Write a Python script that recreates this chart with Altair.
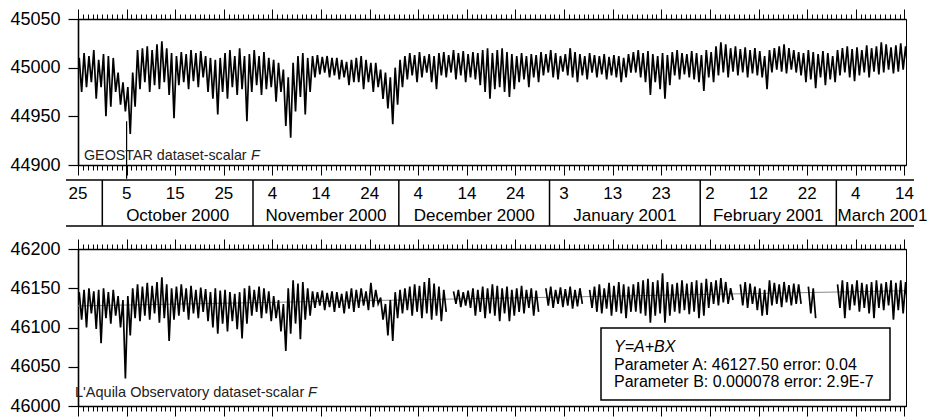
import altair as alt
import pandas as pd

START = "2000-09-25"

# ---- GEOSTAR scalar F : daily upper / lower readings (nT), 25 Sep 2000 -> 14 Mar 2001
TOP_HI = [45010, 45015, 45012, 45018, 45008, 45014, 45012, 45010, 44995, 44985,
          44980, 44995, 45018, 45020, 45022, 45018, 45024, 45027, 45020, 45015,
          45012, 45016, 45014, 45018, 45015, 45017, 45012, 45010, 45008, 45010,
          45015, 45018, 45012, 45020, 45012, 45014, 45018, 45012, 45016, 45010,
          45008, 45005, 44998, 44990, 45005, 45012, 45015, 45010,
          45012, 45013, 45011, 45012, 45010, 45010, 45008, 45006, 45008, 45010,
          45012, 45008, 45005, 45005, 44998, 44995, 44990, 45000, 45008, 45012,
          45015, 45013, 45016, 45012, 45014, 45012, 45015, 45016, 45013, 45018,
          45015, 45017, 45014, 45016, 45015, 45018, 45020, 45015, 45018, 45020,
          45016, 45014, 45012, 45015, 45012, 45014, 45013, 45016, 45014, 45018,
          45015, 45012, 45014, 45020, 45016, 45014, 45012, 45015, 45013, 45012,
          45014, 45011, 45013, 45012, 45010, 45014, 45016, 45018, 45015, 45017,
          45014, 45012, 45015, 45013, 45016, 45018, 45015, 45014, 45017, 45015,
          45013, 45018, 45016, 45022, 45026, 45024, 45020, 45022, 45019, 45021,
          45018, 45020, 45017, 45012,
          45018, 45020, 45022, 45024, 45020, 45018, 45016, 45015, 45018, 45016,
          45014, 45017, 45015, 45012, 45018, 45020, 45022, 45019, 45021, 45018,
          45023, 45020, 45022, 45026, 45024, 45021, 45023, 45025,
          45022]
TOP_LO = [44975, 44980, 44985, 44968, 44980, 44950, 44960, 44975, 44962, 44955,
          44932, 44960, 44978, 44985, 44975, 44982, 44978, 44985, 44972, 44948,
          44982, 44985, 44978, 44986, 44980, 44990, 44975, 44968, 44952, 44975,
          44968, 44980, 44972, 44978, 44945, 44975, 44982, 44972, 44978, 44980,
          44965, 44975, 44940, 44928, 44955, 44970, 44952, 44975,
          44990, 44993, 44995, 44990, 44992, 44988, 44990, 44982, 44985, 44985,
          44978, 44985, 44975, 44980, 44968, 44958, 44942, 44962, 44980, 44988,
          44992, 44985, 44990, 44995, 44985, 44978, 44992, 44990, 44995, 44988,
          44992, 44985, 44990, 44988, 44982, 44975, 44968, 44978, 44980, 44975,
          44970, 44978, 44985, 44988, 44980, 44990, 44985, 44992, 44995, 44990,
          44988, 44996, 44992, 44990, 44985, 44992, 44988, 44995, 44990, 44993,
          44988, 44992, 44990, 44985, 44990, 44995, 44995, 44990, 44985, 44972,
          44985, 44978, 44968, 44982, 44992, 44988, 44993, 44990, 44988, 44985,
          44976, 44990, 44985, 44992, 44995, 44990, 44996, 44992, 44995, 44990,
          44994, 44992, 44990, 44978,
          44995, 44998, 44996, 44994, 44998, 44995, 44992, 44985, 44988, 44979,
          44990, 44982, 44988, 44985, 44992, 44995, 44990, 44986, 44992, 44995,
          44990, 44996, 44993, 44995, 44998, 44994, 44996, 44998,
          44995]

# vertical stroke below the early-October dip
ARTIFACT_DATE = ["2000-10-05T00:00:00"]
ARTIFACT_TOP = [44945]
ARTIFACT_BOTTOM = [44886]

# ---- L'Aquila scalar F : daily upper / lower readings (nT), None = data gap
BOT_HI = [46145, 46148, 46150, 46146, 46148, 46150, 46145, 46148, 46140, 46135,
          46140, 46150, 46155, 46152, 46157, 46153, 46158, 46164, 46155, 46150,
          46152, 46155, 46150, 46153, 46148, 46151, 46149, 46145, 46150, 46147,
          46148, 46145, 46143, 46145, 46150, 46153, 46148, 46152, 46150, 46146,
          46140, 46135, 46130, 46150, 46160, 46156, 46158, 46150,
          46146, 46145, 46147, 46144, 46146, 46145, 46143, 46146, 46150, 46148,
          46150, 46146, 46157, 46148, 46138, 46130, 46135, 46145, 46148, 46150,
          46152, 46155, 46153, 46158, 46163, 46156, 46152, 46148, None, 46146,
          46148, 46145, 46147, 46150, 46148, 46152, 46150, 46155, 46153, 46150,
          46152, 46148, 46150, 46153, 46148, 46150, 46147, None, 46150, 46152,
          46148, 46151, 46149, 46152, 46148, 46150, None, 46148, 46152, 46155,
          46150, 46157, 46153, 46158, 46155, 46152, 46155, 46158, 46160, 46162,
          46158, 46160, 46169, 46158, 46155, 46157, 46160, 46156, 46158, 46160,
          46157, 46162, 46158, 46160, 46163, 46158, 46150, None, 46155, 46158,
          46156, 46152, 46150, 46148,
          46160, 46157, 46155, 46158, 46154, 46156, 46155, None, 46152, 46150,
          None, None, None, None, 46155, 46160, 46158, 46155, 46160, 46157,
          46155, 46158, 46160, 46156, 46158, 46160, 46157, 46160,
          46158]
BOT_LO = [46110, 46100, 46118, 46098, 46080, 46112, 46105, 46115, 46100, 46035,
          46090, 46112, 46108, 46115, 46110, 46118, 46106, 46112, 46083, 46110,
          46115, 46120, 46110, 46118, 46112, 46120, 46108, 46100, 46092, 46105,
          46095, 46108, 46098, 46086, 46105, 46115, 46120, 46112, 46118, 46108,
          46112, 46095, 46070, 46092, 46105, 46085, 46110, 46115,
          46125, 46128, 46122, 46126, 46120, 46125, 46118, 46124, 46120, 46125,
          46128, 46122, 46126, 46130, 46110, 46090, 46083, 46112, 46118, 46122,
          46115, 46120, 46112, 46118, 46110, 46115, 46108, 46120, None, 46130,
          46126, 46128, 46125, 46115, 46120, 46112, 46118, 46115, 46108, 46118,
          46108, 46115, 46120, 46118, 46125, 46115, 46120, None, 46128, 46125,
          46130, 46126, 46128, 46124, 46127, 46130, None, 46125, 46120, 46118,
          46124, 46115, 46120, 46118, 46112, 46120, 46120, 46118, 46115, 46106,
          46115, 46118, 46106, 46115, 46120, 46118, 46122, 46117, 46120, 46112,
          46115, 46125, 46130, 46128, 46132, 46130, 46135, None, 46128, 46125,
          46130, 46122, 46115, 46116,
          46128, 46130, 46126, 46132, 46128, 46130, 46130, None, 46118, 46112,
          None, None, None, None, 46125, 46112, 46122, 46128, 46120, 46125,
          46118, 46112, 46125, 46122, 46128, 46110, 46122, 46118,
          46120]

# linear fit Y = A + BX drawn across the record
FIT_DATES = ["2000-09-25T00:00:00", "2001-03-14T08:00:00"]
FIT_VALUES = [46127.5, 46146.8]

# ---- date band
DAY_TICK_DATES = ["2000-09-25", "2000-10-05", "2000-10-15", "2000-10-25", "2000-11-04",
                  "2000-11-14", "2000-11-24", "2000-12-04", "2000-12-14", "2000-12-24",
                  "2001-01-03", "2001-01-13", "2001-01-23", "2001-02-02", "2001-02-12",
                  "2001-02-22", "2001-03-04", "2001-03-14"]
DAY_LABELS = ["25", "5", "15", "25", "4", "14", "24", "4", "14", "24",
              "3", "13", "23", "2", "12", "22", "4", "14"]
MONTH_LABELS = ["October 2000", "November 2000", "December 2000",
                "January 2001", "February 2001", "March 2001"]
MONTH_SEPARATORS = ["2000-09-30", "2000-10-31", "2000-11-30", "2000-12-31",
                    "2001-01-31", "2001-02-28"]
BAND_END = "2001-03-19"

TOP_TICKS = [44900, 44950, 45000, 45050]
BOT_TICKS = [46000, 46050, 46100, 46150, 46200]

FONT = "Liberation Sans"
W = 828


def to_dt(strings):
    return pd.to_datetime(strings, format="ISO8601")


def series_df(hi, lo):
    base = pd.Timestamp(START)
    rows, seg = [], 0
    for i, (h, l) in enumerate(zip(hi, lo)):
        if h is None or l is None:
            seg += 1
            continue
        rows.append({"t": base + pd.Timedelta(hours=24 * i + 6), "v": h, "seg": seg})
        rows.append({"t": base + pd.Timedelta(hours=24 * i + 18), "v": l, "seg": seg})
    return pd.DataFrame(rows)


def xscale():
    return alt.Scale(domain=[alt.DateTime(year=2000, month=9, date=25),
                             alt.DateTime(year=2001, month=3, date=14, hours=8)])


daily = pd.date_range("2000-09-25", "2001-03-14", freq="D")
daily_dt = [alt.DateTime(year=int(d.year), month=int(d.month), date=int(d.day)) for d in daily]
MAJOR_TEST = "round((datum.value - time(datetime(2000, 8, 25))) / 86400000) % 10 == 0"


def x_axis(orient):
    return alt.Axis(orient=orient, values=daily_dt, labels=False, title=None, grid=False,
                    domain=True, domainColor="black", domainWidth=1.5,
                    tickColor="black", tickWidth=1,
                    tickSize={"condition": {"test": MAJOR_TEST, "value": 10}, "value": 5})


def y_axis(vals):
    return alt.Axis(values=vals, format="d", labelOverlap=False, title=None, grid=False,
                    domain=True, domainColor="black", domainWidth=1.6, tickColor="black",
                    tickWidth=1.2, tickSize=10, labelFontSize=18, labelPadding=8,
                    labelColor="black", labelFont=FONT)


blank = alt.Data(values=[{}])
LINE_W = 1.7

# ---------------- top panel
top_df = series_df(TOP_HI, TOP_LO)
art_df = pd.DataFrame({"t": to_dt(ARTIFACT_DATE), "v": ARTIFACT_TOP, "v2": ARTIFACT_BOTTOM})
yscale_top = alt.Scale(domain=[44900, 45050], nice=False, zero=False)

top_line = alt.Chart(top_df).mark_line(color="black", strokeWidth=LINE_W, clip=True,
                                       strokeJoin="miter").encode(
    x=alt.X("t:T", scale=xscale(), axis=x_axis("bottom")),
    y=alt.Y("v:Q", scale=yscale_top, axis=y_axis(TOP_TICKS)),
    detail="seg:N",
)
top_art = alt.Chart(art_df).mark_rule(color="black", strokeWidth=1.2).encode(
    x=alt.X("t:T", scale=xscale(), axis=x_axis("top")),
    y=alt.Y("v:Q", scale=yscale_top, axis=y_axis(TOP_TICKS)),
    y2="v2:Q",
)
top_lbl = alt.Chart(blank).mark_text(align="left", baseline="alphabetic", fontSize=14.3,
                                     font=FONT, color="#222").encode(
    x=alt.value(6), y=alt.value(141), text=alt.value("GEOSTAR dataset-scalar"))
top_lbl_f = alt.Chart(blank).mark_text(align="left", baseline="alphabetic", fontSize=14.3,
                                       font=FONT, color="#222", fontStyle="italic").encode(
    x=alt.value(173), y=alt.value(141), text=alt.value("F"))

top = alt.layer(top_line, top_art, top_lbl, top_lbl_f).resolve_axis(
    x="independent").properties(width=W, height=146)

# ---------------- date band
sep_df = pd.DataFrame({"t": to_dt(MONTH_SEPARATORS)})
bounds = to_dt(MONTH_SEPARATORS + [BAND_END])
month_df = pd.DataFrame({"t": bounds[:-1] + (bounds[1:] - bounds[:-1]) / 2, "label": MONTH_LABELS})
day_df = pd.DataFrame({"t": to_dt(DAY_TICK_DATES), "label": DAY_LABELS})

hlines = [
    alt.Chart(blank).mark_rule(color="black", strokeWidth=1.5).encode(
        x=alt.value(-12), x2=alt.value(836), y=alt.value(yy))
    for yy in (15, 61)
]
seps = alt.Chart(sep_df).mark_rule(color="black", strokeWidth=1.5).encode(
    x=alt.X("t:T", scale=xscale(), axis=None), y=alt.value(15), y2=alt.value(61))
days = alt.Chart(day_df).mark_text(fontSize=17, font=FONT, color="black",
                                   baseline="alphabetic").encode(
    x=alt.X("t:T", scale=xscale(), axis=None), y=alt.value(34), text="label:N")
months = alt.Chart(month_df).mark_text(fontSize=17, font=FONT, color="black",
                                       baseline="alphabetic").encode(
    x=alt.X("t:T", scale=xscale(), axis=None), y=alt.value(56), text="label:N")

band = alt.layer(*hlines, seps, days, months).properties(
    width=W, height=84, view=alt.ViewBackground(stroke="transparent"))

# ---------------- bottom panel
bot_df = series_df(BOT_HI, BOT_LO)
fit_df = pd.DataFrame({"t": to_dt(FIT_DATES), "v": FIT_VALUES})
yscale_bot = alt.Scale(domain=[46000, 46200], nice=False, zero=False)

fit = alt.Chart(fit_df).mark_line(color="#8a8a8a", strokeWidth=1).encode(
    x=alt.X("t:T", scale=xscale(), axis=x_axis("top")),
    y=alt.Y("v:Q", scale=yscale_bot, axis=y_axis(BOT_TICKS)),
)
bot_line = alt.Chart(bot_df).mark_line(color="black", strokeWidth=LINE_W, clip=True,
                                       strokeJoin="miter").encode(
    x=alt.X("t:T", scale=xscale(), axis=x_axis("bottom")),
    y=alt.Y("v:Q", scale=yscale_bot, axis=y_axis(BOT_TICKS)),
    detail="seg:N",
)
box = alt.Chart(blank).mark_rect(fill="white", stroke="black", strokeWidth=1.5).encode(
    x=alt.value(523), x2=alt.value(812), y=alt.value(79), y2=alt.value(151))
txt_kw = dict(align="left", baseline="alphabetic", fontSize=16, font=FONT, color="black")
eq = alt.Chart(blank).mark_text(fontStyle="italic", **txt_kw).encode(
    x=alt.value(536), y=alt.value(103), text=alt.value("Y=A+BX"))
pa = alt.Chart(blank).mark_text(**txt_kw).encode(
    x=alt.value(536), y=alt.value(121), text=alt.value("Parameter A: 46127.50 error: 0.04"))
pb = alt.Chart(blank).mark_text(**txt_kw).encode(
    x=alt.value(536), y=alt.value(138), text=alt.value("Parameter B: 0.000078 error: 2.9E-7"))
bot_lbl = alt.Chart(blank).mark_text(align="left", baseline="alphabetic", fontSize=14.5,
                                     font=FONT, color="#222").encode(
    x=alt.value(-3), y=alt.value(148), text=alt.value("L'Aquila Observatory dataset-scalar"))
bot_lbl_f = alt.Chart(blank).mark_text(align="left", baseline="alphabetic", fontSize=14.5,
                                       font=FONT, color="#222", fontStyle="italic").encode(
    x=alt.value(230), y=alt.value(148), text=alt.value("F"))

bottom = alt.layer(fit, bot_line, box, eq, pa, pb, bot_lbl, bot_lbl_f).resolve_axis(
    x="independent").properties(width=W, height=157)

chart = alt.vconcat(top, band, bottom, spacing=0, bounds="flush").properties(
    padding={"left": 1, "top": 0, "right": 0, "bottom": 0}
).configure_view(stroke="black", strokeWidth=1).configure_text(font=FONT)

chart.save("out.html", embed_options={"renderer": "svg", "actions": False})
